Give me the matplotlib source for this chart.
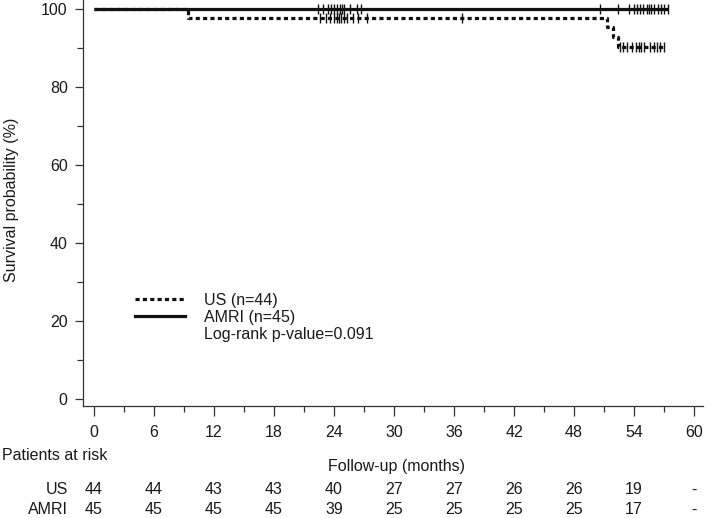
import numpy as np
import matplotlib
matplotlib.use("Agg")
import matplotlib.pyplot as plt
from matplotlib.lines import Line2D
from matplotlib.ticker import MultipleLocator
from matplotlib.transforms import blended_transform_factory

plt.rcParams['font.family'] = ['Liberation Sans', 'DejaVu Sans']
FS = 11.5
plt.rcParams['font.size'] = FS

# ---- data ----
risk_times = [0, 6, 12, 18, 24, 30, 36, 42, 48, 54, 60]
us_risk = ['44', '44', '43', '43', '40', '27', '27', '26', '26', '19', '-']
amri_risk = ['45', '45', '45', '45', '39', '25', '25', '25', '25', '17', '-']

us_times = [0, 9.4, 51.3, 51.9, 52.4, 57.1]
us_surv = [100, 97.7, 95.3, 92.9, 90.3, 90.3]
amri_times = [0, 57.4]
amri_surv = [100, 100]

us_cens = [22.6, 23.2, 23.6, 24.0, 24.3, 24.5, 24.7, 25.0, 25.3, 25.9, 26.4, 27.3,
           36.8, 52.6, 52.9, 53.3, 53.8, 54.2, 54.5, 54.7, 55.0, 55.6, 56.0,
           56.3, 56.6, 57.0]
amri_cens = [22.4, 22.9, 23.4, 23.7, 24.0, 24.3, 24.6, 24.8, 25.0, 25.6, 26.3,
             26.7, 50.6, 52.4, 53.5, 54.0, 54.3, 54.6, 54.9, 55.3, 55.5, 55.7,
             56.0, 56.4, 56.7, 57.0, 57.4]

labels = ['US (n=44)', 'AMRI (n=45)']
pvalue_text = 'Log-rank p-value=0.091'


def surv_at(times, surv, t):
    idx = np.searchsorted(times, t, side='right') - 1
    return np.asarray(surv)[idx]


W, H = 709, 518
fig = plt.figure(figsize=(W / 100, H / 100), dpi=100)
ax = fig.add_axes([83 / W, (H - 406) / H, (703 - 83) / W, 406 / H])

col = '#111111'
tcol = '#1a1a1a'
lw = 2.3
dash = (0, (1.3, 1.0))

ax.plot(amri_times, amri_surv, drawstyle='steps-post', color=col, lw=lw,
        solid_capstyle='butt')
ax.plot(us_times, us_surv, drawstyle='steps-post', color=col, lw=lw,
        linestyle=dash)

ax.plot(amri_cens, surv_at(amri_times, amri_surv, amri_cens), linestyle='none',
        marker='|', markersize=7, markeredgewidth=1.0, color=col)
ax.plot(us_cens, surv_at(us_times, us_surv, us_cens), linestyle='none',
        marker='|', markersize=7, markeredgewidth=1.0, color=col)

ax.set_xlim(-1.1, 60.9)
ax.set_ylim(-1.8, 102.3)
ax.set_xticks(risk_times)
ax.xaxis.set_minor_locator(MultipleLocator(3))
ax.set_yticks([0, 20, 40, 60, 80, 100])
ax.yaxis.set_minor_locator(MultipleLocator(10))
ax.tick_params(axis='x', which='major', length=7, width=0.9, pad=7, colors='#333333',
               labelcolor=tcol, labelsize=FS)
ax.tick_params(axis='x', which='minor', length=4, width=0.9, colors='#333333')
ax.tick_params(axis='y', which='major', length=6, width=0.9, pad=5, colors='#333333',
               labelcolor=tcol, labelsize=FS)
ax.tick_params(axis='y', which='minor', length=4, width=0.9, colors='#333333')
for s in ['top', 'right']:
    ax.spines[s].set_visible(False)
for s in ['left', 'bottom']:
    ax.spines[s].set_linewidth(0.9)
    ax.spines[s].set_color('#333333')

fig.text(12 / W, 1 - 200 / H, 'Survival probability (%)', rotation=90,
         ha='center', va='center', color=tcol, fontsize=FS)

handles = [Line2D([], [], color=col, lw=lw, linestyle=dash),
           Line2D([], [], color=col, lw=lw),
           Line2D([], [], linestyle='none')]
ax.legend(handles, labels + [pvalue_text], loc='upper left',
          bbox_to_anchor=(135 / W, 1 - 293 / H), bbox_transform=fig.transFigure,
          frameon=False, borderpad=0, borderaxespad=0, handlelength=3.1,
          handletextpad=1.25, labelspacing=0.12, fontsize=FS, labelcolor=tcol)

# risk table
tr = blended_transform_factory(ax.transData, fig.transFigure)
fig.text(2 / W, 1 - 456 / H, 'Patients at risk', ha='left', va='center',
         color=tcol, fontsize=FS)
ax.text(30.3, 1 - 466 / H, 'Follow-up (months)', transform=tr, ha='center',
        va='center', color=tcol, fontsize=FS)
fig.text(68 / W, 1 - 490 / H, 'US', ha='right', va='center', color=tcol,
         fontsize=FS)
fig.text(68 / W, 1 - 510 / H, 'AMRI', ha='right', va='center', color=tcol,
         fontsize=FS)
for t, u, a in zip(risk_times, us_risk, amri_risk):
    ax.text(t, 1 - 490 / H, u, transform=tr, ha='center', va='center',
            color=tcol, fontsize=FS)
    ax.text(t, 1 - 510 / H, a, transform=tr, ha='center', va='center',
            color=tcol, fontsize=FS)

fig.savefig('out.png', dpi=100)
